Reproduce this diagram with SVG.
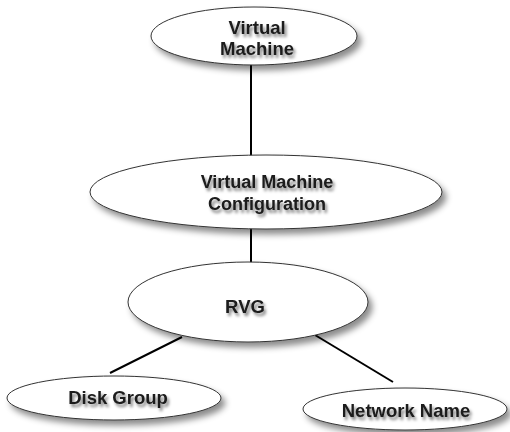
<svg xmlns="http://www.w3.org/2000/svg" width="510" height="432" viewBox="0 0 510 432">
  <defs>
    <filter id="sh" x="-10%" y="-20%" width="130%" height="160%">
      <feDropShadow dx="4" dy="5" stdDeviation="3" flood-color="#000" flood-opacity="0.45"/>
    </filter>
    <filter id="tsh" x="-10%" y="-30%" width="130%" height="180%">
      <feDropShadow dx="2" dy="3" stdDeviation="1.8" flood-color="#000" flood-opacity="0.5"/>
    </filter>
  </defs>
  <style>
    .n ellipse { fill: #ffffff; stroke: #333333; stroke-width: 1; filter: url(#sh); }
    .n text { font-family: "Liberation Sans", Arial, sans-serif; font-weight: bold; font-size: 18.5px; fill: #1a1a1a; text-anchor: middle; filter: url(#tsh); }
    .c line { stroke: #000000; stroke-width: 2; }
  </style>
  <rect width="510" height="432" fill="#ffffff"/>
  <g id="connectors" class="c">
    <line x1="251" y1="64" x2="251" y2="157"/>
    <line x1="251" y1="228" x2="251" y2="263"/>
    <line x1="182" y1="337" x2="110" y2="373"/>
    <line x1="315" y1="335" x2="393" y2="382"/>
  </g>
  <g id="virtual-machine" class="n">
    <ellipse cx="254" cy="36" rx="103" ry="29"/>
    <text x="257" y="34">Virtual</text>
    <text x="257" y="55">Machine</text>
  </g>
  <g id="vm-configuration" class="n">
    <ellipse cx="266" cy="192" rx="176" ry="37"/>
    <text x="267" y="188" style="font-size:18px">Virtual Machine</text>
    <text x="267" y="210" style="font-size:18px">Configuration</text>
  </g>
  <g id="rvg" class="n">
    <ellipse cx="248" cy="302" rx="120" ry="40"/>
    <text x="245" y="313">RVG</text>
  </g>
  <g id="disk-group" class="n">
    <ellipse cx="114" cy="398" rx="107" ry="22"/>
    <text x="118" y="404">Disk Group</text>
  </g>
  <g id="network-name" class="n">
    <ellipse cx="405" cy="409" rx="102" ry="21"/>
    <text x="406" y="417">Network Name</text>
  </g>
</svg>
